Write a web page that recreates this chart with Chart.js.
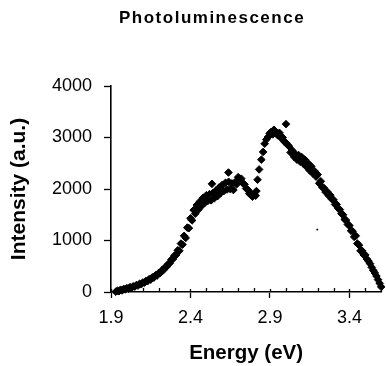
<!DOCTYPE html>
<html>
<head>
<meta charset="utf-8">
<script src="https://cdn.jsdelivr.net/npm/chart.js@4/dist/chart.umd.min.js"></script>
<style>
  html, body { margin: 0; padding: 0; background: #fff; }
  #wrap { position: relative; width: 386px; height: 366px; }
</style>
</head>
<body>
<div id="wrap"><canvas id="plChart"></canvas></div>
<script>
// ---------- Datos ----------
var chartTitle = 'Photoluminescence';
var xTitle = 'Energy (eV)';
var yTitle = 'Intensity (a.u.)';

var xTickValues = [1.9, 2.4, 2.9, 3.4];
var xMinorTicks = [2.0, 2.1, 2.2, 2.3, 2.5, 2.6, 2.7, 2.8, 3.0, 3.1, 3.2, 3.3, 3.5, 3.6];
var yTickValues = [0, 1000, 2000, 3000, 4000];

var energy = [
  1.93, 1.94, 1.95, 1.96, 1.97, 1.98, 1.99, 2.00, 2.01, 2.02,
  2.03, 2.04, 2.05, 2.06, 2.07, 2.08, 2.09, 2.10, 2.11, 2.12,
  2.13, 2.14, 2.15, 2.16, 2.17, 2.18, 2.19, 2.20, 2.21, 2.22,
  2.23, 2.24, 2.25, 2.26, 2.27, 2.28, 2.29, 2.30, 2.31, 2.32,
  2.33, 2.34, 2.35, 2.36, 2.37, 2.38, 2.39, 2.40, 2.41, 2.42,
  2.43, 2.44, 2.45, 2.46, 2.47, 2.48, 2.49, 2.50, 2.51, 2.52,
  2.53, 2.54, 2.55, 2.56, 2.57, 2.58, 2.59, 2.60, 2.61, 2.62,
  2.63, 2.64, 2.65, 2.66, 2.67, 2.68, 2.69, 2.70, 2.71, 2.72,
  2.73, 2.74, 2.75, 2.76, 2.77, 2.78, 2.79, 2.80, 2.81, 2.815,
  2.822, 2.832, 2.846, 2.857, 2.867, 2.877, 2.888, 2.898, 2.908, 2.918,
  2.925, 2.935, 2.942, 2.95, 2.96, 2.97, 2.98, 2.99, 3.00, 3.01,
  3.02, 3.03, 3.04, 3.05, 3.06, 3.07, 3.08, 3.09, 3.10, 3.11,
  3.12, 3.13, 3.14, 3.15, 3.16, 3.17, 3.18, 3.19, 3.20, 3.21,
  3.22, 3.23, 3.24, 3.25, 3.26, 3.27, 3.28, 3.29, 3.30, 3.31,
  3.32, 3.33, 3.34, 3.35, 3.36, 3.37, 3.38, 3.39, 3.40, 3.41,
  3.42, 3.43, 3.44, 3.45, 3.46, 3.47, 3.48, 3.49, 3.50, 3.51,
  3.52, 3.53, 3.54, 3.55, 3.56, 3.57, 3.58, 3.59, 3.60, 2.535,
  2.639, 3.001
];

var intensity = [
  5, 25, 15, 45, 30, 60, 50, 75, 65, 95,
  85, 110, 105, 135, 125, 160, 150, 185, 180, 215,
  210, 250, 240, 285, 280, 325, 320, 370, 370, 420,
  425, 480, 490, 545, 560, 630, 640, 710, 720, 810,
  800, 940, 920, 1090, 1050, 1250, 1240, 1430, 1390, 1590,
  1520, 1690, 1600, 1760, 1670, 1830, 1730, 1880, 1770, 1900,
  1780, 1920, 1820, 1970, 1860, 2030, 1920, 2080, 1960, 2120,
  1990, 2140, 2000, 2110, 1980, 2130, 2090, 2230, 2200, 2200,
  2110, 2090, 2010, 1990, 1910, 1920, 1850, 1890, 1870, 1960,
  2180, 2380, 2570, 2720, 2880, 2960, 3010, 3080, 3110, 3060,
  3150, 3120, 3080, 3040, 3090, 2990, 3000, 2920, 2900, 2860,
  2830, 2710, 2750, 2630, 2680, 2570, 2660, 2530, 2620, 2490,
  2570, 2430, 2500, 2360, 2440, 2300, 2350, 2240, 2280, 2110,
  2150, 2030, 2020, 1940, 1950, 1870, 1880, 1800, 1790, 1700,
  1700, 1620, 1600, 1520, 1500, 1410, 1390, 1310, 1290, 1190,
  1180, 1070, 1090, 940, 910, 800, 800, 720, 720, 640,
  600, 550, 480, 420, 370, 310, 240, 170, 100, 2100,
  2320, 3260
];

// punto suelto (muy pequeño) bajo la bajada
var strayEnergy = [3.198];
var strayIntensity = [1212];

// ---------- Helpers ----------
var FONT = '"Liberation Sans", Arial, Helvetica, sans-serif';

function _toPoints(xs, ys) {
  return xs.map(function (x, i) { return { x: x, y: ys[i] }; });
}

// titulo con espaciado entre letras + ticks menores del eje X
var plDecor = {
  id: 'plDecor',
  afterDraw: function (chart) {
    var ctx = chart.ctx;
    var xs = chart.scales.x;
    var yb = chart.chartArea.bottom;

    ctx.save();
    ctx.strokeStyle = '#000';
    ctx.lineWidth = 1.3;
    ctx.beginPath();
    xMinorTicks.forEach(function (v) {
      var px = Math.round(xs.getPixelForValue(v)) + 0.5;
      ctx.moveTo(px, yb);
      ctx.lineTo(px, yb - 4);
    });
    xTickValues.forEach(function (v) {
      var px = Math.round(xs.getPixelForValue(v)) + 0.5;
      ctx.moveTo(px, yb);
      ctx.lineTo(px, yb - 3);
    });
    ctx.stroke();

    ctx.font = 'bold 17px ' + FONT;
    ctx.letterSpacing = '1.5px';
    ctx.fillStyle = '#000';
    ctx.textAlign = 'left';
    ctx.textBaseline = 'alphabetic';
    ctx.fillText(chartTitle, 119, 23);
    ctx.restore();
  }
};

new Chart(document.getElementById('plChart'), {
  type: 'scatter',
  data: {
    datasets: [
      {
        label: 'PL',
        data: _toPoints(energy, intensity),
        pointStyle: 'rectRot',
        pointRadius: 3.8,
        pointBorderWidth: 1,
        backgroundColor: '#000',
        borderColor: '#000',
        pointHoverRadius: 3.8,
        clip: false
      },
      {
        label: 'stray',
        data: _toPoints(strayEnergy, strayIntensity),
        pointStyle: 'rect',
        pointRadius: 1.2,
        pointBorderWidth: 0,
        backgroundColor: '#000',
        borderColor: '#000',
        clip: false
      }
    ]
  },
  options: {
    responsive: true,
    maintainAspectRatio: false,
    animation: false,
    events: [],
    layout: { padding: { top: 86, right: 1.5, bottom: 0, left: 0 } },
    plugins: {
      legend: { display: false },
      tooltip: { enabled: false },
      title: { display: false }
    },
    scales: {
      x: {
        type: 'linear',
        min: 1.9,
        max: 3.6,
        afterBuildTicks: function (scale) {
          scale.ticks = xTickValues.map(function (v) { return { value: v }; });
        },
        afterFit: function (scale) { scale.height = 74; },
        ticks: {
          color: '#000',
          padding: 9,
          maxRotation: 0,
          font: { family: FONT, size: 18 },
          callback: function (v) { return Number(v).toFixed(1); }
        },
        grid: { drawOnChartArea: false, color: '#000', tickColor: '#000', tickLength: 6, tickWidth: 1.3 },
        border: { color: '#000', width: 1.6 },
        title: {
          display: true,
          text: xTitle,
          color: '#000',
          padding: { top: 3, bottom: 0 },
          font: { family: FONT, size: 20.5, weight: 'bold' }
        }
      },
      y: {
        min: 0,
        max: 4000,
        afterBuildTicks: function (scale) {
          scale.ticks = yTickValues.map(function (v) { return { value: v }; });
        },
        afterFit: function (scale) { scale.width = 111; },
        ticks: {
          color: '#000',
          padding: 12,
          font: { family: FONT, size: 18 },
          callback: function (v) { return String(v); }
        },
        grid: { drawOnChartArea: false, color: '#000', tickColor: '#000', tickLength: 7, tickWidth: 1.3 },
        border: { color: '#000', width: 1.6 },
        title: {
          display: true,
          text: yTitle,
          color: '#000',
          padding: { top: 7, bottom: 0 },
          font: { family: FONT, size: 21, weight: 'bold' }
        }
      }
    }
  },
  plugins: [plDecor]
});
</script>
</body>
</html>
